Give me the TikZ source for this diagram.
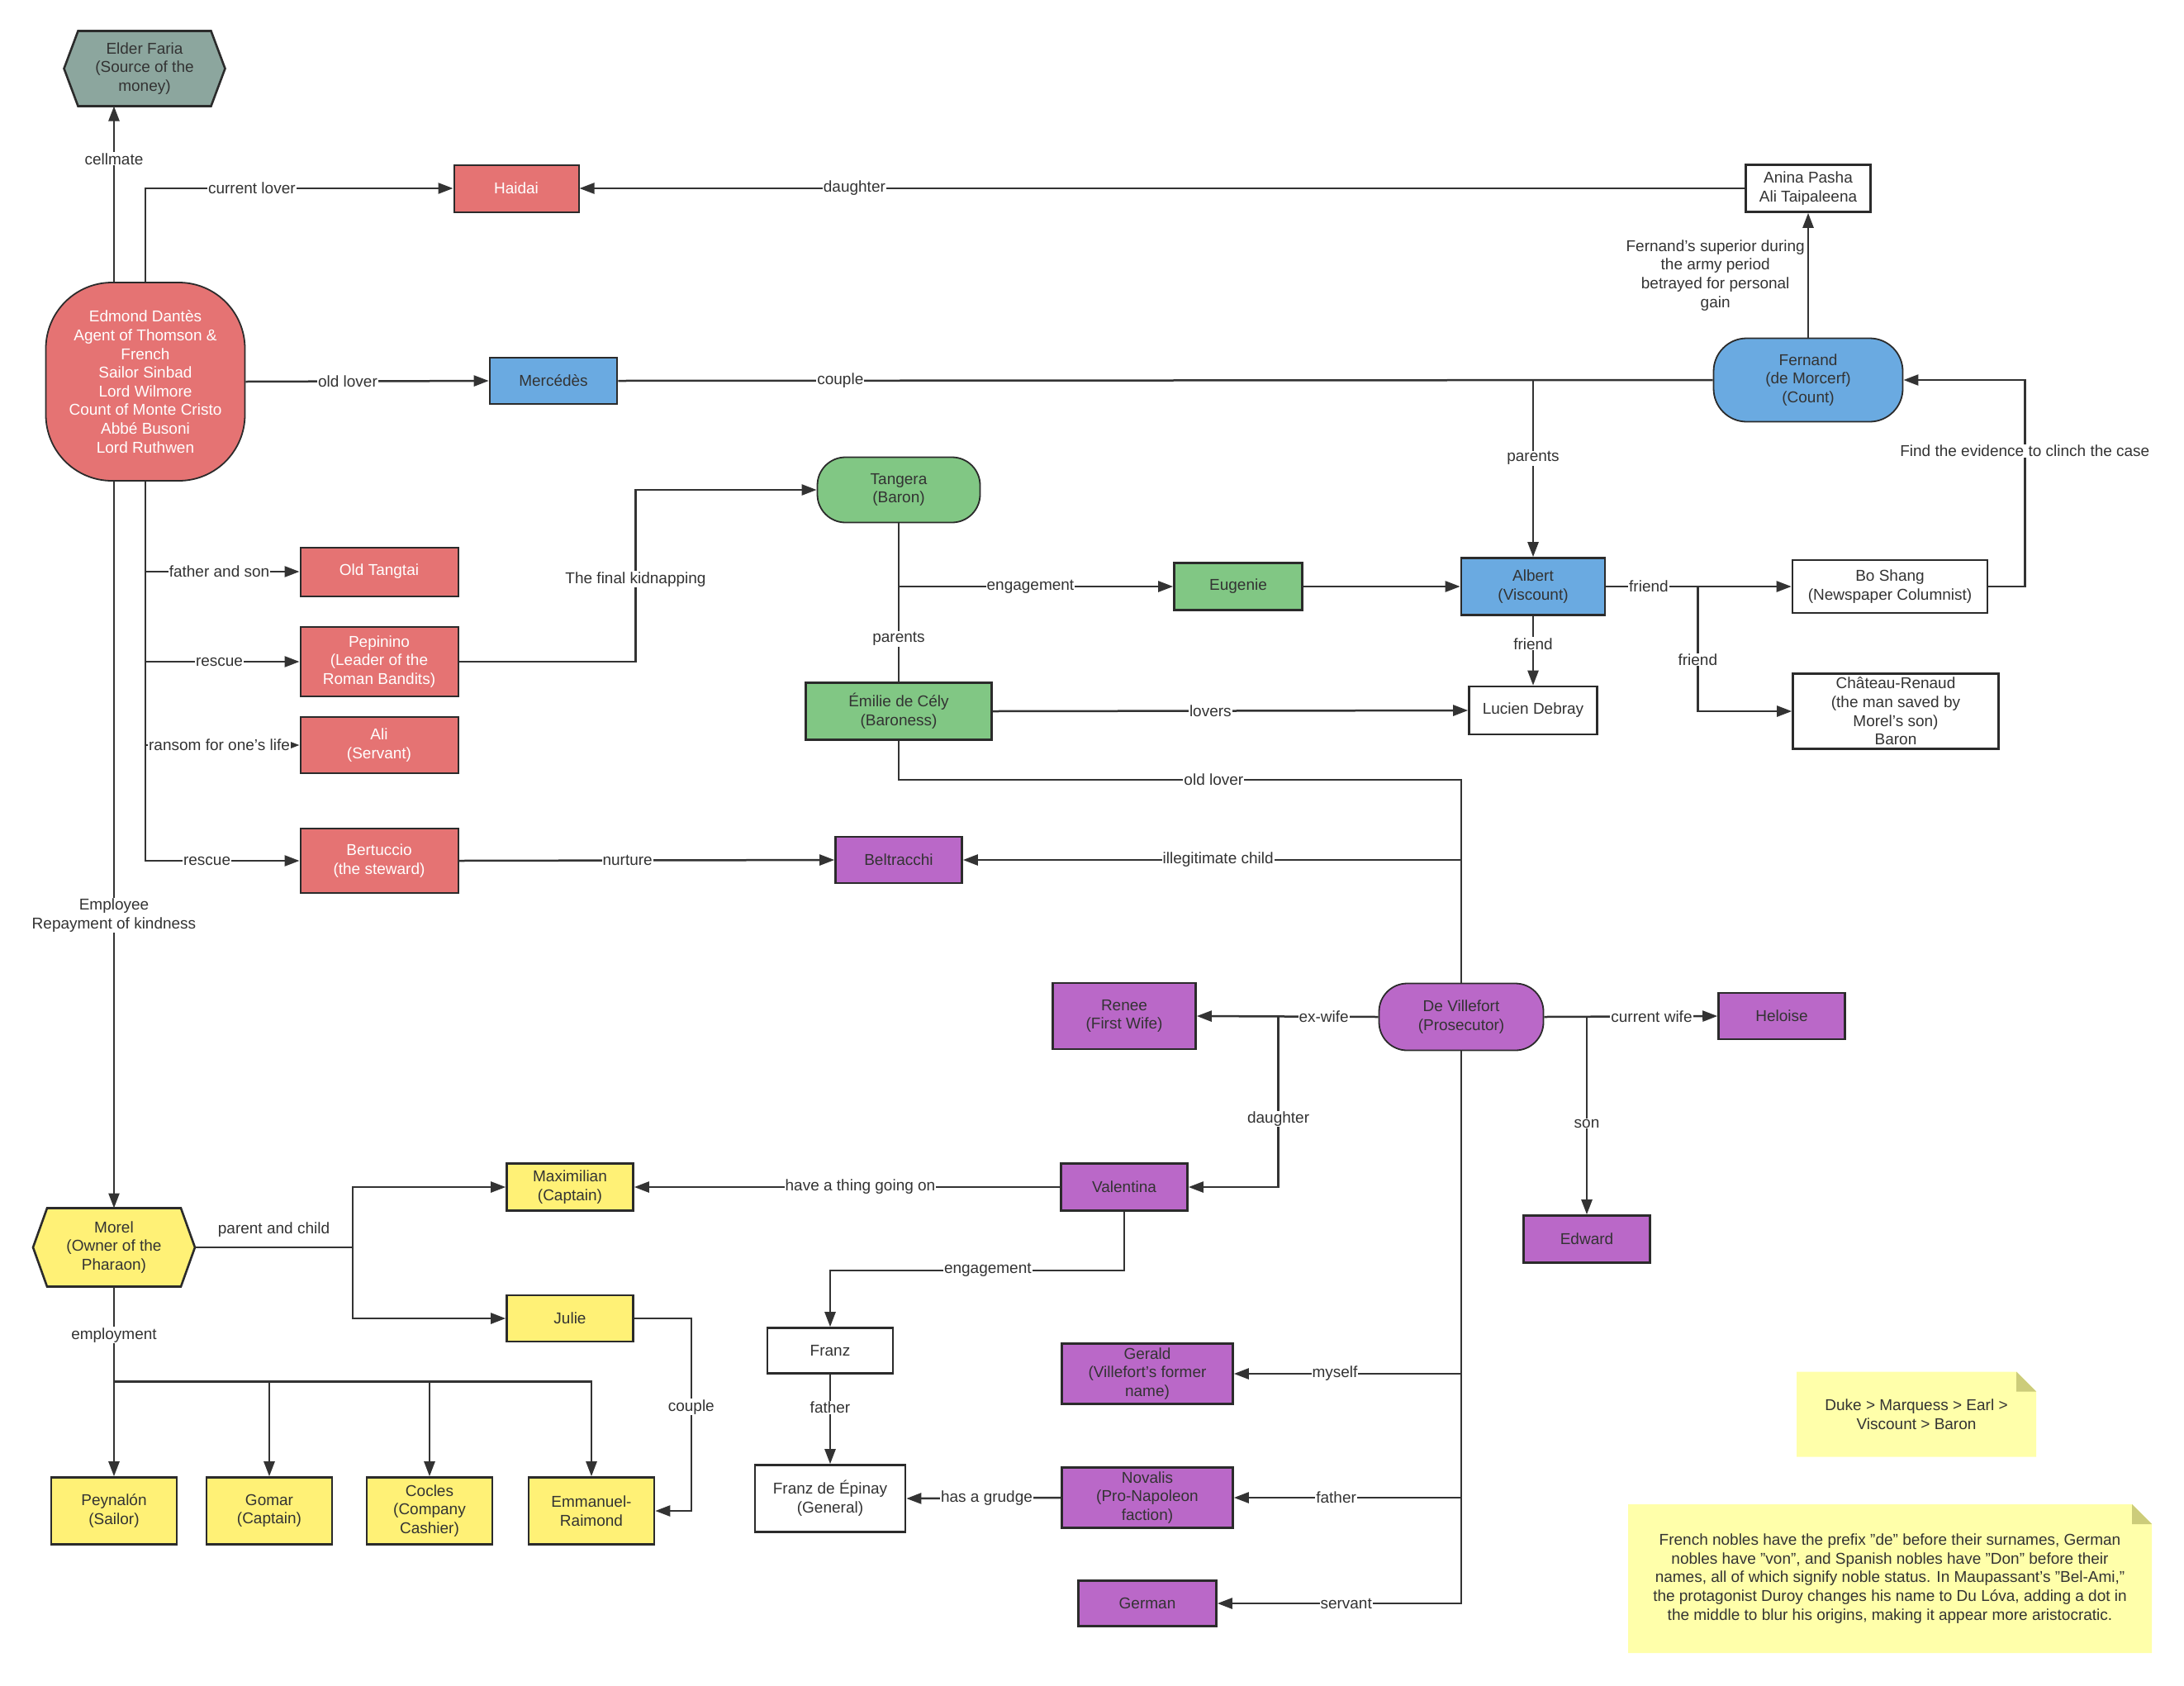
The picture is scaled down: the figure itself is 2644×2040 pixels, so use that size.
\documentclass[tikz,border=0pt]{standalone}
\usepackage{fontspec}
\setmainfont{Liberation Sans}
\usepackage{tikz}
\usetikzlibrary{arrows.meta, backgrounds}
\usepackage{xcolor}
\definecolor{redf}{RGB}{229,115,115}
\definecolor{bluef}{RGB}{106,170,225}
\definecolor{greenf}{RGB}{129,199,132}
\definecolor{purplef}{RGB}{186,104,200}
\definecolor{yellowf}{RGB}{255,241,118}
\definecolor{fariaf}{RGB}{140,166,158}
\definecolor{notef}{RGB}{255,255,170}
\definecolor{foldf}{RGB}{204,204,122}
\definecolor{linec}{RGB}{51,51,51}
\definecolor{edgec}{RGB}{43,43,43}
\definecolor{txtc}{RGB}{51,51,51}
\newcommand{\chartfont}{\fontsize{19}{22.6}\selectfont}
\tikzstyle{base}     = [rectangle, draw=edgec, line width=2.6pt, text=txtc,
                        font=\chartfont, align=center, inner sep=2pt]
\tikzstyle{box}      = [base]
\tikzstyle{redbox}   = [base, fill=redf, text=white, line width=2pt]
\tikzstyle{roundbox} = [base, rounded corners=34pt, line width=1.8pt]
\tikzstyle{hexbox}   = [rectangle, font=\chartfont, align=center, text=txtc,
                        inner sep=2pt, outer sep=0pt]
\tikzstyle{hexline}  = [draw=edgec, line width=2.6pt]
\tikzstyle{note}     = [rectangle, font=\chartfont, align=center, text=txtc, outer sep=0pt]
\tikzstyle{lbl}      = [font=\chartfont, fill=white, text=txtc, inner sep=1pt, align=center]
\tikzstyle{arrow}    = [line width=2.5pt, draw=linec, -{Triangle[length=18pt,width=13pt]}]
\tikzstyle{link}     = [line width=2.5pt, draw=linec]

\begin{document}
\begin{tikzpicture}[x=1pt, y=-1pt]
  \useasboundingbox (0,0) rectangle (2644,2040);

  % Monte Cristo and his people
  \node (edmond) [roundbox, fill=redf, text=white, rounded corners=80pt,
                  minimum width=241pt, minimum height=240pt] at (176,462)
        {Edmond Dantès\\Agent of Thomson \&\\French\\Sailor Sinbad\\Lord Wilmore\\Count of Monte Cristo\\Abbé Busoni\\Lord Ruthwen};
  \node (faria)      [hexbox, minimum width=195pt, minimum height=91pt] at (175,83) {Elder Faria\\(Source of the\\money)};
  \node (haidai)     [redbox, minimum width=151pt, minimum height=57pt] at (625,228) {Haidai};
  \node (oldtangtai) [redbox, minimum width=191pt, minimum height=59pt] at (459,692) {Old Tangtai};
  \node (pepinino)   [redbox, minimum width=191pt, minimum height=84pt] at (459,801) {Pepinino\\(Leader of the\\Roman Bandits)};
  \node (ali)        [redbox, minimum width=191pt, minimum height=68pt] at (459,902) {Ali\\(Servant)};
  \node (bertuccio)  [redbox, minimum width=191pt, minimum height=78pt] at (459,1042) {Bertuccio\\(the steward)};

  % Morcerf family
  \node (merc)    [box, fill=bluef, minimum width=154pt, minimum height=56pt] at (670,461) {Mercédès};
  \node (anina)   [box, fill=white, minimum width=151pt, minimum height=57pt] at (2189,228) {Anina Pasha\\Ali Taipaleena};
  \node (fernand) [roundbox, fill=bluef, rounded corners=40pt, minimum width=229pt, minimum height=101pt] at (2189,460) {Fernand\\(de Morcerf)\\(Count)};
  \node (albert)  [box, fill=bluef, minimum width=174pt, minimum height=69pt] at (1856,710) {Albert\\(Viscount)};
  \node (lucien)  [box, fill=white, minimum width=155pt, minimum height=58pt] at (1856,860) {Lucien Debray};
  \node (boshang) [box, fill=white, minimum width=236pt, minimum height=64pt] at (2288,710) {Bo Shang\\(Newspaper Columnist)};
  \node (chateau) [box, fill=white, minimum width=249pt, minimum height=91pt] at (2295,861) {Château-Renaud\\(the man saved by\\Morel's son)\\Baron};

  % Danglars family
  \node (tangera) [roundbox, fill=greenf, minimum width=197pt, minimum height=79pt] at (1088,593) {Tangera\\(Baron)};
  \node (eugenie) [box, fill=greenf, minimum width=155pt, minimum height=57pt] at (1499,710) {Eugenie};
  \node (emilie)  [box, fill=greenf, minimum width=225pt, minimum height=69pt] at (1088,861) {Émilie de Cély\\(Baroness)};

  % Villefort family
  \node (beltracchi) [box, fill=purplef, minimum width=153pt, minimum height=56pt] at (1088,1041) {Beltracchi};
  \node (villefort)  [roundbox, fill=purplef, minimum width=199pt, minimum height=81pt] at (1769,1231) {De Villefort\\(Prosecutor)};
  \node (renee)      [box, fill=purplef, minimum width=173pt, minimum height=80pt] at (1361,1230) {Renee\\(First Wife)};
  \node (heloise)    [box, fill=purplef, minimum width=153pt, minimum height=56pt] at (2157,1230) {Heloise};
  \node (edward)     [box, fill=purplef, minimum width=153pt, minimum height=57pt] at (1921,1500) {Edward};
  \node (valentina)  [box, fill=purplef, minimum width=153pt, minimum height=57pt] at (1361,1437) {Valentina};
  \node (gerald)     [box, fill=purplef, minimum width=207pt, minimum height=73pt] at (1389,1663) {Gerald\\(Villefort's former\\name)};
  \node (novalis)    [box, fill=purplef, minimum width=207pt, minimum height=73pt] at (1389,1813) {Novalis\\(Pro-Napoleon\\faction)};
  \node (german)     [box, fill=purplef, minimum width=167pt, minimum height=55pt] at (1389,1941) {German};
  \node (franz)      [box, fill=white, minimum width=152pt, minimum height=55pt] at (1005,1635) {Franz};
  \node (epinay)     [box, fill=white, minimum width=182pt, minimum height=81pt] at (1005,1814) {Franz de Épinay\\(General)};

  % Morel family
  \node (morel)      [hexbox, minimum width=196pt, minimum height=95pt] at (138,1510) {Morel\\(Owner of the\\Pharaon)};
  \node (maximilian) [box, fill=yellowf, minimum width=153pt, minimum height=57pt] at (690,1437) {Maximilian\\(Captain)};
  \node (julie)      [box, fill=yellowf, minimum width=153pt, minimum height=56pt] at (690,1596) {Julie};
  \node (peynalon)   [box, fill=yellowf, minimum width=152pt, minimum height=81pt] at (138,1829) {Peynalón\\(Sailor)};
  \node (gomar)      [box, fill=yellowf, minimum width=152pt, minimum height=81pt] at (326,1829) {Gomar\\(Captain)};
  \node (cocles)     [box, fill=yellowf, minimum width=152pt, minimum height=81pt] at (520,1829) {Cocles\\(Company\\Cashier)};
  \node (emmanuel)   [box, fill=yellowf, minimum width=152pt, minimum height=81pt] at (716,1829) {Emmanuel-\\Raimond};

  % notes
  \node (ranks)  [note, minimum width=290pt, minimum height=103pt] at (2320,1712) {Duke > Marquess > Earl >\\Viscount > Baron};
  \node (prefix) [note, minimum width=634pt, minimum height=180pt] at (2288,1911)
        {French nobles have the prefix "de" before their surnames, German\\nobles have "von", and Spanish nobles have "Don" before their\\names, all of which signify noble status. In Maupassant's "Bel-Ami,"\\the protagonist Duroy changes his name to Du Lóva, adding a dot in\\the middle to blur his origins, making it appear more aristocratic.};

  \begin{scope}[on background layer]
    \foreach \n/\c in {faria/fariaf, morel/yellowf}
      \draw[hexline, fill=\c] (\n.west) -- ([xshift=17pt]\n.north west) -- ([xshift=-17pt]\n.north east)
            -- (\n.east) -- ([xshift=-17pt]\n.south east) -- ([xshift=17pt]\n.south west) -- cycle;
    \foreach \n in {ranks, prefix} {
      \fill[notef] (\n.south west) -- (\n.north west) -- ([xshift=-24pt]\n.north east)
            -- ([yshift=-24pt]\n.north east) -- (\n.south east) -- cycle;
      \fill[foldf] ([xshift=-24pt]\n.north east) -- ([yshift=-24pt]\n.north east)
            -- ([xshift=-24pt,yshift=-24pt]\n.north east) -- cycle;
    }
  \end{scope}

  % Edmond's links
  \draw[arrow] (edmond.north -| morel.north) -- node[lbl, pos=0.70] {cellmate} (faria.south -| morel.north);
  \draw[arrow] (edmond.north) |- node[lbl, pos=0.673] {current lover} (haidai.west);
  \draw[arrow] (anina.west) -- node[lbl, pos=0.764] {daughter} (haidai.east);
  \draw[arrow] (edmond.east) -- node[lbl, pos=0.42] {old lover} (merc.west);
  \draw[arrow] (edmond.south |- oldtangtai.west) -- node[lbl, pos=0.48] {father and son} (oldtangtai.west);
  \draw[arrow] (edmond.south |- pepinino.west) -- node[lbl, pos=0.48] {rescue} (pepinino.west);
  \draw[arrow] (edmond.south |- ali.west) -- node[lbl, pos=0.48] {ransom for one's life} (ali.west);
  \draw[arrow] (edmond.south) |- node[lbl, pos=0.70] {rescue} (bertuccio.west);
  \draw[arrow] (edmond.south -| morel.north) -- node[lbl, pos=0.597] {Employee\\Repayment of kindness} (morel.north);
  \draw[arrow] (pepinino.east) -- ++(214,0) |- node[lbl, pos=0.24] {The final kidnapping} (tangera.west);
  \draw[arrow] (bertuccio.east) -- node[lbl, pos=0.449] {nurture} (beltracchi.west);

  % Morcerf links
  \draw[link]  (merc.east) -- node[lbl, pos=0.203] {couple} (fernand.west);
  \draw[arrow] (fernand.north) -- node[left, font=\chartfont, text=txtc, align=center, inner sep=3pt]
        {Fernand's superior during\\the army period\\betrayed for personal\\gain} (anina.south);
  \draw[arrow] (albert.north |- merc.east) -- node[lbl, pos=0.44] {parents} (albert.north);
  \draw[arrow] (albert.south) -- node[lbl, pos=0.40] {friend} (lucien.north);
  \draw[arrow] (albert.east) -- node[lbl, pos=0.23] {friend} (boshang.west);
  \coordinate (afork) at ([xshift=111pt]albert.east);
  \draw[arrow] (afork) |- node[lbl, pos=0.293] {friend} (chateau.west);
  \draw[arrow] (boshang.east) -- ++(44,0) |- node[lbl, pos=0.328] {Find the evidence to clinch the case} (fernand.east);

  % Danglars links
  \draw[link]  (tangera.south) -- node[lbl, pos=0.73] {parents} (emilie.north);
  \draw[arrow] (tangera.south |- eugenie.west) -- node[lbl, pos=0.48] {engagement} (eugenie.west);
  \draw[arrow] (eugenie.east) -- (albert.west);
  \draw[arrow] (emilie.east) -- node[lbl, pos=0.458] {lovers} (lucien.west);
  \draw[link]  (emilie.south) -- ++(0,47) -| node[lbl, pos=0.28] {old lover} (villefort.north);

  % Villefort links
  \draw[arrow] (villefort.north) |- node[lbl, pos=0.744] {illegitimate child} (beltracchi.east);
  \draw[arrow] (villefort.west) -- node[lbl, pos=0.30] {ex-wife} (renee.east);
  \coordinate (vfork) at ([xshift=-121pt]villefort.west);
  \draw[arrow] (vfork) |- node[lbl, pos=0.30] {daughter} (valentina.east);
  \draw[arrow] (villefort.east) -- node[lbl, pos=0.62] {current wife} (heloise.west);
  \draw[arrow] (edward.north |- villefort.east) -- node[lbl, pos=0.54] {son} (edward.north);
  \draw[arrow] (villefort.south) |- node[lbl, pos=0.736] {servant} (german.east);
  \draw[arrow] (villefort.south |- gerald.east) -- node[lbl, pos=0.556] {myself} (gerald.east);
  \draw[arrow] (villefort.south |- novalis.east) -- node[lbl, pos=0.55] {father} (novalis.east);
  \draw[arrow] (novalis.west) -- node[lbl, pos=0.48] {has a grudge} (epinay.east);
  \draw[arrow] (valentina.west) -- node[lbl, pos=0.469] {have a thing going on} (maximilian.east);
  \draw[arrow] (valentina.south) -- ++(0,71) -| node[lbl, pos=0.232] {engagement} (franz.north);
  \draw[arrow] (franz.south) -- node[lbl, pos=0.37] {father} (epinay.north);

  % Morel links
  \draw[arrow] (morel.east) -- node[above=8pt, font=\chartfont, text=txtc] {parent and child} ++(191,0) |- (maximilian.west);
  \draw[arrow] (morel.east) ++(191,0) |- (julie.west);
  \draw[arrow] (julie.east) -- ++(69,0) |- node[lbl, pos=0.23] {couple} (emmanuel.east);
  \draw[arrow] (morel.south) -- node[lbl, pos=0.51] {employment} ++(0,115) coordinate (bar) -- (peynalon.north);
  \draw[arrow] (bar) -| (gomar.north);
  \draw[arrow] (bar) -| (cocles.north);
  \draw[arrow] (bar) -| (emmanuel.north);
\end{tikzpicture}
\end{document}
